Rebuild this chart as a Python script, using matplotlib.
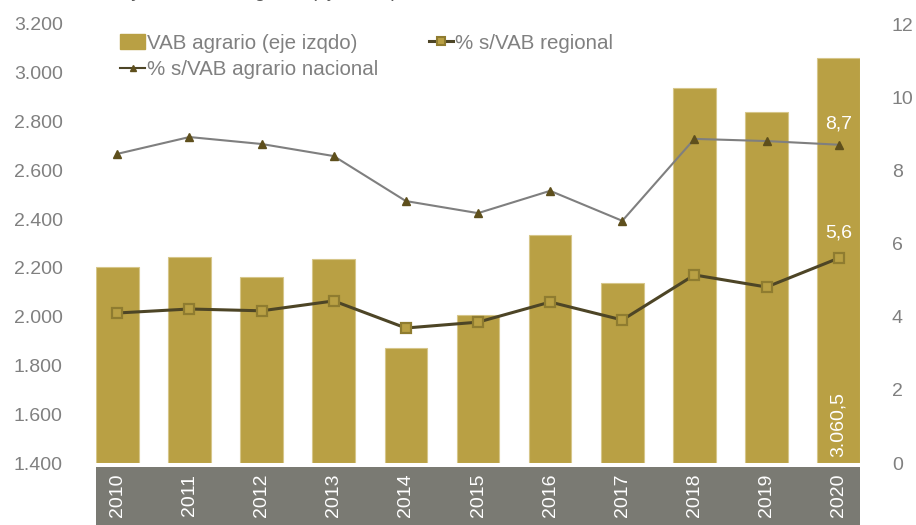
import matplotlib
matplotlib.use("Agg")
import matplotlib.pyplot as plt
from matplotlib.lines import Line2D
from matplotlib.patches import Patch

plt.rcParams['font.family'] = ['Liberation Sans', 'DejaVu Sans']

years = ['2010', '2011', '2012', '2013', '2014', '2015', '2016', '2017', '2018', '2019', '2020']
vab_agrario = [2205, 2245, 2163, 2237, 1871, 2007, 2335, 2138, 2937, 2839, 3060.5]
pct_regional = [4.10, 4.21, 4.16, 4.43, 3.69, 3.85, 4.40, 3.91, 5.14, 4.81, 5.6]
pct_nacional = [8.45, 8.91, 8.72, 8.39, 7.16, 6.83, 7.44, 6.62, 8.86, 8.80, 8.7]
left_ticks = [1400, 1600, 1800, 2000, 2200, 2400, 2600, 2800, 3000, 3200]
right_ticks = [0, 2, 4, 6, 8, 10, 12]
title = "Valor del VAB y % del VAB agrario (eje dcho)"

BAR = '#b9a044'
BAR_EDGE = '#d6c68a'
DARK = '#4d4526'
TRI = '#5e4f1c'
GRAYLINE = '#7f7f7f'
TICK = '#808080'
BAND = '#7a7a73'
FS = 14

W, H = 916, 525
fig = plt.figure(figsize=(W / 100, H / 100), dpi=100)
x0, x1 = 96, 860
ytop, ybot = 24, 463
ax = fig.add_axes([x0 / W, 1 - ybot / H, (x1 - x0) / W, (ybot - ytop) / H])
x = list(range(len(years)))
ax.bar(x, [v - 1400 for v in vab_agrario], bottom=1400, width=0.59, color=BAR,
       edgecolor=BAR_EDGE, linewidth=0.8, zorder=2)
ax.set_xlim(-0.295, 10.295)
ax.set_ylim(1400, 3200)
ax.set_yticks(left_ticks)
ax.set_yticklabels([f"{t:,}".replace(',', '.') for t in left_ticks], color=TICK, fontsize=FS)
ax.tick_params(axis='y', length=0, pad=24)
ax.set_xticks([])
for s in ax.spines.values():
    s.set_visible(False)

ax2 = ax.twinx()
ax2.plot(x, pct_nacional, color=GRAYLINE, linewidth=1.5, marker='^', markersize=6,
         markerfacecolor=TRI, markeredgecolor=TRI, zorder=3)
ax2.plot(x, pct_regional, color=DARK, linewidth=2.2, marker='s', markersize=6.5,
         markerfacecolor=BAR, markeredgecolor='#8f7c30', markeredgewidth=1.6, zorder=4)
ax2.set_ylim(0, 12)
ax2.set_yticks(right_ticks)
ax2.set_yticklabels([str(t) for t in right_ticks], color=TICK, fontsize=FS)
ax2.tick_params(axis='y', length=0, pad=23)
for s in ax2.spines.values():
    s.set_visible(False)

# data labels
ax2.annotate("8,7", (10, pct_nacional[-1]), xytext=(0, 15), textcoords='offset points',
             ha='center', va='center', color='white', fontsize=FS)
ax2.annotate("5,6", (10, pct_regional[-1]), xytext=(0, 18), textcoords='offset points',
             ha='center', va='center', color='white', fontsize=FS)
ax.annotate("3.060,5", (10, 1400), xytext=(0, 4), textcoords='offset points',
            ha='center', va='bottom', rotation=90, color='white', fontsize=FS)

handles = [Patch(facecolor=BAR, edgecolor=BAR),
           Line2D([], [], color=DARK, linewidth=1.5, marker='^', markersize=5,
                  markerfacecolor=TRI, markeredgecolor=TRI),
           Line2D([], [], color=DARK, linewidth=2.2, marker='s', markersize=6,
                  markerfacecolor=BAR, markeredgecolor='#8f7c30', markeredgewidth=1.5)]
labels = ["VAB agrario (eje izqdo)", "% s/VAB agrario nacional", "% s/VAB regional"]
leg = ax2.legend(handles, labels, ncol=2, loc='upper left', bbox_to_anchor=(0.021, 0.997),
                 frameon=False, fontsize=14.8, handlelength=1.2, handletextpad=0.1,
                 columnspacing=2.45, labelspacing=0.35, borderaxespad=0)
for t in leg.get_texts():
    t.set_color(TICK)

# gray category band
bx = fig.add_axes([x0 / W, 0, (x1 - x0) / W, (H - 467) / H])
bx.set_facecolor(BAND)
bx.set_xlim(-0.295, 10.295)
bx.set_ylim(0, 1)
bx.set_xticks([])
bx.set_yticks([])
for s in bx.spines.values():
    s.set_visible(False)
for i, yr in enumerate(years):
    bx.text(i, 0.52, yr, rotation=90, ha='center', va='center', color='white', fontsize=FS)

# title, cut off at the top edge
fig.text(7 / W, 1.0 + 3 / H, title, ha='left', va='baseline', color='#595959', fontsize=FS)

fig.savefig("out.png", dpi=100)
